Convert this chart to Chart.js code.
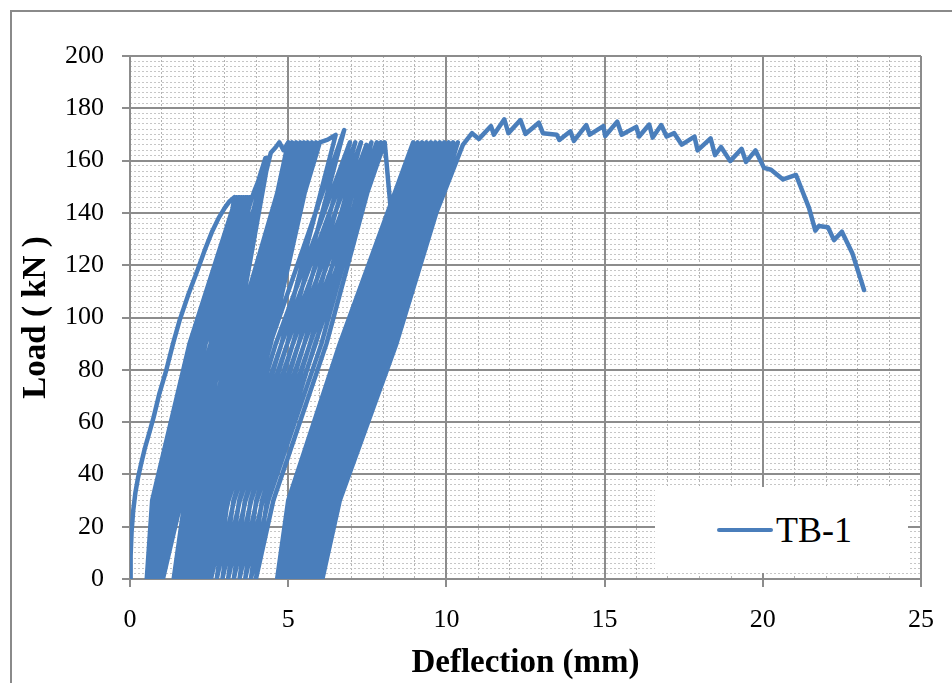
<!DOCTYPE html>
<html lang="en">
<head>
<meta charset="UTF-8" />
<title>TB-1 Load vs Deflection</title>
<script src="https://cdn.jsdelivr.net/npm/chart.js"></script>
<style>
  body {
    margin: 0;
    background: #fff;
    width: 952px;
    height: 683px;
    overflow: hidden;
    position: relative;
    font-family: "Liberation Serif", "Times New Roman", serif;
  }
  #frame {
    position: absolute;
    left: 10px;
    top: 10px;
    width: 1000px;
    height: 1000px;
    border: 2px solid #8a8a8a;
  }
  #loadChart {
    position: absolute;
    left: 0;
    top: 0;
  }
  #legend {
    position: absolute;
    left: 655px;
    top: 487px;
    width: 253px;
    height: 86px;
    background: #fff;
  }
  #legend .swatch {
    position: absolute;
    left: 62px;
    top: 41px;
    width: 56px;
    height: 4px;
    border-radius: 2px;
  }
  #legend .name {
    position: absolute;
    left: 121px;
    top: 21px;
    font-size: 36px;
    line-height: 44px;
    color: #000;
  }
</style>
</head>
<body>

<div id="frame"></div>
<canvas id="loadChart" width="952" height="683"></canvas>
<div id="legend"></div>

<script>
  // virgin loading up to the first cycle level
  const envelopeDefl = [0, 0.02, 0.05, 0.1, 0.17, 0.25, 0.35, 0.47, 0.6, 0.75, 0.93, 1.15, 1.36,
                        1.57, 1.85, 2.13, 2.37, 2.6, 2.8, 3.0, 3.15, 3.3];
  const envelopeLoad = [0, 9, 18, 26, 33, 38.5, 44, 50, 55.5, 62, 71, 80, 90,
                        99, 109, 118, 126, 133, 138, 142, 144.5, 146];

  // cycles at ~146 kN (unload -> residual -> reload)
  const cyc146Defl = [
    2.55, 1.11, 0.53, 0.70, 1.88, 3.36,
    2.61, 1.17, 0.59, 0.76, 1.94, 3.42,
    2.67, 1.23, 0.65, 0.82, 2.00, 3.47,
    2.72, 1.28, 0.70, 0.87, 2.05, 3.53,
    2.78, 1.34, 0.76, 0.93, 2.11, 3.59,
    2.84, 1.40, 0.82, 0.99, 2.17, 3.65,
    2.90, 1.46, 0.88, 1.05, 2.23, 3.70,
    2.95, 1.51, 0.93, 1.10, 2.28, 3.76,
    3.01, 1.57, 0.99, 1.16, 2.34, 3.81,
    3.06, 1.62, 1.04, 1.21, 2.39, 3.86];
  const cyc146Load = [
    90, 30, 0, 30, 90, 146,
    90, 30, 0, 30, 90, 146,
    90, 30, 0, 30, 90, 146,
    90, 30, 0, 30, 90, 146,
    90, 30, 0, 30, 90, 146,
    90, 30, 0, 30, 90, 146,
    90, 30, 0, 30, 90, 146,
    90, 30, 0, 30, 90, 146,
    90, 30, 0, 30, 90, 146,
    90, 30, 0, 30, 90, 146];

  // cycles at ~161 kN
  const cyc161Defl = [
    3.95, 4.05, 4.15, 4.28,
    3.16, 1.93, 1.38, 1.73, 2.80, 4.33,
    3.24, 2.01, 1.46, 1.81, 2.88, 4.38,
    3.33, 2.10, 1.55, 1.90, 2.97, 4.45,
    4.6, 4.72, 4.85, 5.0];
  const cyc161Load = [
    149, 152, 156, 161,
    90, 30, 0, 30, 90, 161,
    90, 30, 0, 30, 90, 161,
    90, 30, 0, 30, 90, 163,
    165, 167, 164, 167];

  // cycles at ~167 kN, first set
  const cyc167aDefl = [
    3.63, 2.23, 1.68, 2.03, 3.27, 5.12,
    3.75, 2.35, 1.80, 2.15, 3.39, 5.25,
    3.87, 2.47, 1.92, 2.27, 3.51, 5.38,
    3.99, 2.59, 2.04, 2.39, 3.63, 5.50,
    4.11, 2.71, 2.16, 2.51, 3.75, 5.62,
    4.23, 2.83, 2.28, 2.63, 3.87, 5.75,
    4.35, 2.95, 2.40, 2.75, 3.99, 5.88,
    4.45, 3.05, 2.50, 2.85, 4.09, 6.00,
    6.25, 6.5];
  const cyc167aLoad = [
    90, 30, 0, 30, 90, 167,
    90, 30, 0, 30, 90, 167,
    90, 30, 0, 30, 90, 167,
    90, 30, 0, 30, 90, 167,
    90, 30, 0, 30, 90, 167,
    90, 30, 0, 30, 90, 167,
    90, 30, 0, 30, 90, 167,
    90, 30, 0, 30, 90, 167,
    168, 169.8];

  // cycles at ~167-172 kN, second set
  const cyc167bDefl = [
    4.79, 3.11, 2.56, 2.91, 4.43, 6.77,
    4.97, 3.29, 2.74, 3.09, 4.61, 6.95,
    5.15, 3.47, 2.92, 3.27, 4.79, 7.12,
    5.33, 3.65, 3.10, 3.45, 4.97, 7.30,
    5.51, 3.83, 3.28, 3.63, 5.15, 7.47,
    5.69, 4.01, 3.46, 3.81, 5.33, 7.63,
    5.87, 4.19, 3.64, 3.99, 5.51, 7.80,
    6.05, 4.37, 3.82, 4.17, 5.69, 7.93,
    6.21, 4.53, 3.98, 4.33, 5.85, 8.05];
  const cyc167bLoad = [
    90, 30, 0, 30, 90, 171.7,
    90, 30, 0, 30, 90, 167,
    90, 30, 0, 30, 90, 167,
    90, 30, 0, 30, 90, 167,
    90, 30, 0, 30, 90, 166,
    90, 30, 0, 30, 90, 167,
    90, 30, 0, 30, 90, 167,
    90, 30, 0, 30, 90, 167,
    90, 30, 0, 30, 90, 167];

  // cycles at ~167 kN, third set
  const cyc167cDefl = [
    8.25, 7.35, 6.35, 5.05, 4.65, 5.00, 6.63, 8.95,
    7.12, 5.33, 4.78, 5.13, 6.76, 9.09,
    7.25, 5.46, 4.91, 5.26, 6.89, 9.23,
    7.38, 5.59, 5.04, 5.39, 7.02, 9.37,
    7.51, 5.72, 5.17, 5.52, 7.15, 9.51,
    7.64, 5.85, 5.30, 5.65, 7.28, 9.65,
    7.77, 5.98, 5.43, 5.78, 7.41, 9.79,
    7.90, 6.11, 5.56, 5.91, 7.54, 9.93,
    8.03, 6.24, 5.69, 6.04, 7.67, 10.07,
    8.16, 6.37, 5.82, 6.17, 7.80, 10.21,
    8.29, 6.50, 5.95, 6.30, 7.93, 10.36,
    8.42, 6.63, 6.08, 6.43, 8.06, 10.52];
  const cyc167cLoad = [
    140, 99, 61, 22, 0, 30, 90, 167,
    90, 30, 0, 30, 90, 167,
    90, 30, 0, 30, 90, 167,
    90, 30, 0, 30, 90, 167,
    90, 30, 0, 30, 90, 167,
    90, 30, 0, 30, 90, 167,
    90, 30, 0, 30, 90, 167,
    90, 30, 0, 30, 90, 167,
    90, 30, 0, 30, 90, 167,
    90, 30, 0, 30, 90, 167,
    90, 30, 0, 30, 90, 167,
    90, 30, 0, 30, 90, 166];

  // post-peak branch
  const postDefl = [10.81, 11.03, 11.41, 11.5, 11.83, 11.96, 12.34, 12.5, 12.92, 13.05,
                    13.49, 13.57, 13.92, 14.03, 14.42, 14.53, 14.96, 15.02, 15.4, 15.54,
                    16.0, 16.09, 16.41, 16.52, 16.79, 16.96, 17.2, 17.44, 17.84, 17.94,
                    18.35, 18.49, 18.68, 18.97, 19.33, 19.47, 19.77, 20.04, 20.26, 20.64,
                    21.05, 21.46, 21.66, 21.77, 22.06, 22.25, 22.5, 22.83, 23.2];
  const postLoad = [170.5, 168.3, 173.2, 169.9, 175.8, 170.5, 175.5, 170.2, 174.5, 170.5,
                    169.9, 167.9, 171.2, 167.5, 173.6, 169.9, 173.2, 169.4, 174.9, 169.9,
                    172.9, 169.2, 173.8, 168.8, 173.6, 169.2, 170.5, 166.1, 169.2, 163.9,
                    168.5, 162.1, 165.2, 159.8, 164.5, 159.5, 163.9, 157.2, 156.5, 152.8,
                    154.5, 141.9, 133.2, 135, 134.5, 129.6, 132.8, 124.6, 110.5];

  const seriesName = 'TB-1';
  const xTitle = 'Deflection (mm)';
  const yTitle = 'Load ( kN )';

  const stages = [
    [envelopeDefl, envelopeLoad],
    [cyc146Defl, cyc146Load],
    [cyc161Defl, cyc161Load],
    [cyc167aDefl, cyc167aLoad],
    [cyc167bDefl, cyc167bLoad],
    [cyc167cDefl, cyc167cLoad],
    [postDefl, postLoad]
  ];
  const points = stages.flatMap(([xs, ys]) => xs.map((x, i) => ({ x: x, y: ys[i] })));

  const serif = '"Liberation Serif", "Times New Roman", serif';
  const lineBlue = '#4a7ebb';
  const majorGrey = '#8c8c8c';

  const chart = new Chart(document.getElementById('loadChart'), {
    type: 'scatter',
    data: {
      datasets: [{
        label: seriesName,
        data: points,
        showLine: true,
        borderColor: lineBlue,
        backgroundColor: lineBlue,
        borderWidth: 4.5,
        borderJoinStyle: 'round',
        borderCapStyle: 'round',
        pointRadius: 0,
        pointHoverRadius: 0,
        tension: 0,
        clip: 0
      }]
    },
    options: {
      responsive: false,
      animation: false,
      events: [],
      layout: { padding: { top: 56, right: 24, left: 0, bottom: 0 } },
      plugins: {
        legend: { display: false },
        tooltip: { enabled: false }
      },
      scales: {
        xMinor: {
          type: 'linear', position: 'bottom', min: 0, max: 25,
          ticks: { stepSize: 1, display: false, autoSkip: false },
          grid: {
            drawTicks: false, lineWidth: 1,
            color: c => (c.tick && c.tick.value % 5 === 0) ? 'rgba(0,0,0,0)' : '#b3b3b3'
          },
          border: { display: false, dash: [2, 2] },
          afterFit: s => { s.height = 0; }
        },
        yMinor: {
          type: 'linear', position: 'left', min: 0, max: 200,
          ticks: { stepSize: 2, display: false, autoSkip: false },
          grid: {
            drawTicks: false, lineWidth: 1,
            color: c => (c.tick && c.tick.value % 20 === 0) ? 'rgba(0,0,0,0)' : '#c6c6c6'
          },
          border: { display: false, dash: [2, 2] },
          afterFit: s => { s.width = 0; }
        },
        x: {
          type: 'linear', position: 'bottom', min: 0, max: 25,
          ticks: { stepSize: 5, color: '#000', padding: 18, maxRotation: 0,
                   font: { family: serif, size: 26 } },
          grid: { color: majorGrey, lineWidth: 2, tickLength: 8, tickColor: majorGrey },
          border: { color: majorGrey, width: 2 },
          title: { display: true, text: xTitle, color: '#000',
                   font: { family: serif, size: 33, weight: 'bold' },
                   padding: { top: 0, bottom: 0 } },
          afterFit: s => { s.height = 104; }
        },
        y: {
          type: 'linear', position: 'left', min: 0, max: 200,
          ticks: { stepSize: 20, color: '#000', padding: 18,
                   font: { family: serif, size: 26 } },
          grid: { color: majorGrey, lineWidth: 2, tickLength: 8, tickColor: majorGrey },
          border: { color: majorGrey, width: 2 },
          title: { display: true, text: yTitle, color: '#000',
                   font: { family: serif, size: 33, weight: 'bold' },
                   padding: { top: 17, bottom: 0 } },
          afterFit: s => { s.width = 130; }
        }
      }
    }
  });

  // legend box drawn inside the plot, as in the original workbook chart
  const legend = document.getElementById('legend');
  chart.data.datasets.forEach(ds => {
    const sw = document.createElement('div');
    sw.className = 'swatch';
    sw.style.background = ds.borderColor;
    const nm = document.createElement('div');
    nm.className = 'name';
    nm.textContent = ds.label;
    legend.appendChild(sw);
    legend.appendChild(nm);
  });
</script>

</body>
</html>
